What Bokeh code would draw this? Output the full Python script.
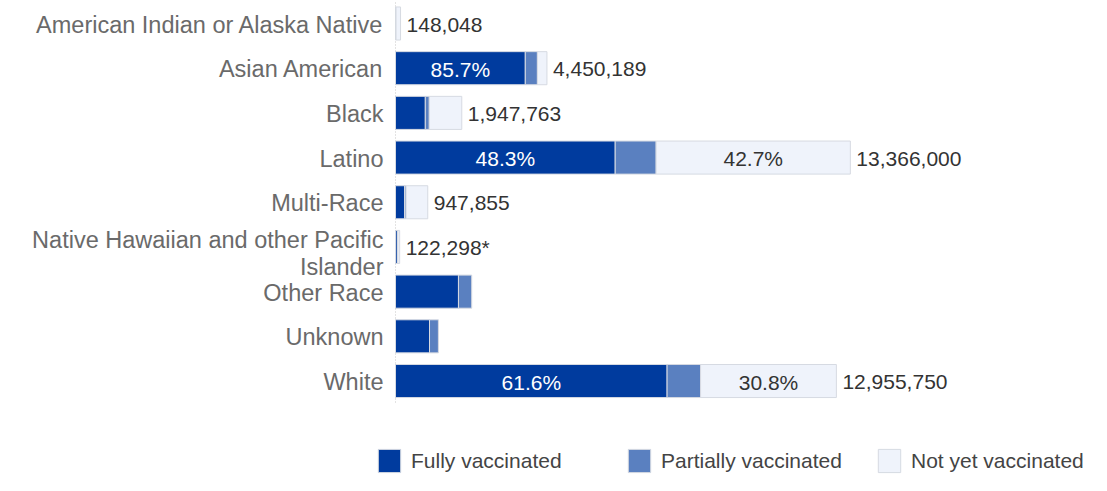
from bokeh.plotting import figure
from bokeh.models import ColumnDataSource, Range1d, Legend, LegendItem
from bokeh.core.properties import value
from bokeh.embed import file_html
from bokeh.resources import INLINE

# ---------------- data ----------------
categories = [
    "American Indian or Alaska Native",
    "Asian American",
    "Black",
    "Latino",
    "Multi-Race",
    "Native Hawaiian and other Pacific Islander",
    "Other Race",
    "Unknown",
    "White",
]
population = [148048, 4450189, 1947763, 13366000, 947855, 122298, None, None, 12955750]
population_labels = ["148,048", "4,450,189", "1,947,763", "13,366,000", "947,855",
                     "122,298*", "", "", "12,955,750"]
fully_vaccinated = [10000, 3813800, 876000, 6455800, 265000, 55000, 1850000, 1000000, 7980700]
partially_vaccinated = [6000, 356000, 117000, 1202900, 47000, 12000, 390000, 260000, 984600]
not_yet_vaccinated = [132048, 280389, 954763, 5707300, 635855, 55298, 0, 0, 3990450]

series_names = ["Fully vaccinated", "Partially vaccinated", "Not yet vaccinated"]
series_colors = ["#003b9e", "#5a80c0", "#eff3fb"]

# ---------------- layout constants ----------------
W, H = 1091, 475
PX_PER_M = 34.03          # pixels per million people
ROW_PX = 44.69            # pixels per category row
ORIGIN = 395              # x pixel of the bar origin inside the figure
TOP_ROW_PX = 23           # y pixel of the first row centre
BAR_H = 0.74
FONT = "Liberation Sans"

n = len(categories)
ys = [n - 1 - i for i in range(n)]
x_start = -ORIGIN / PX_PER_M * 1e6
x_end = (W - ORIGIN) / PX_PER_M * 1e6
y_end = (n - 1) + TOP_ROW_PX / ROW_PX
y_start = y_end - H / ROW_PX
axis_bottom = y_end - 402 / ROW_PX

p = figure(width=W, height=H, x_range=Range1d(x_start, x_end),
           y_range=Range1d(y_start, y_end), output_backend="svg",
           toolbar_location=None, x_axis_location=None, y_axis_location=None,
           min_border=0)
p.grid.visible = False
p.outline_line_color = None
p.background_fill_color = "white"

# dotted category axis line
p.segment(x0=[0], y0=[axis_bottom], x1=[0], y1=[y_end],
          line_color="#c6c6c6", line_width=1, line_dash="1 2")

# stacked segments
series = [fully_vaccinated, partially_vaccinated, not_yet_vaccinated]
lefts = [0] * n
renderers = []
seg_bounds = []
for vals, name, color in zip(series, series_names, series_colors):
    rows = [i for i in range(n) if vals[i] > 0]
    src = ColumnDataSource(dict(
        y=[ys[i] for i in rows],
        left=[lefts[i] for i in rows],
        right=[lefts[i] + vals[i] for i in rows],
    ))
    r = p.hbar(y="y", left="left", right="right", height=BAR_H, source=src,
               fill_color=color, line_color="#d6dae2", line_width=1)
    renderers.append(r)
    seg_bounds.append([(lefts[i], lefts[i] + vals[i]) for i in range(n)])
    lefts = [lefts[i] + vals[i] for i in range(n)]

# category labels
label_style = dict(text_align="right", text_baseline="middle", text_font=value(FONT),
                   text_font_size="23.5px", text_color="#6a6a6a")
labels = [c.replace("Pacific Islander", "Pacific\nIslander") for c in categories]
single = [i for i in range(n) if "\n" not in labels[i]]
p.text(x=[0] * len(single), y=[ys[i] for i in single], text=[labels[i] for i in single],
       x_offset=-12, y_offset=1, **label_style)
for i in [i for i in range(n) if "\n" in labels[i]]:
    first, second = labels[i].split("\n")
    p.text(x=[0], y=[ys[i]], text=[first], x_offset=-12, y_offset=-7, **label_style)
    p.text(x=[0], y=[ys[i]], text=[second], x_offset=-12, y_offset=20, **label_style)

# population labels
rows = [i for i in range(n) if population[i] is not None]
p.text(x=[population[i] for i in rows], y=[ys[i] for i in rows],
       text=[population_labels[i] for i in rows], x_offset=6, y_offset=1,
       text_align="left", text_baseline="middle",
       text_font=value(FONT), text_font_size="21px", text_color="#333333")

# percentage labels inside wide segments
MIN_LABEL = 1.5e6
for s_idx, color in [(0, "white"), (2, "#333333")]:
    xs, yy, tt = [], [], []
    for i in range(n):
        if population[i] is None:
            continue
        a, b = seg_bounds[s_idx][i]
        if b - a >= MIN_LABEL:
            xs.append((a + b) / 2)
            yy.append(ys[i])
            tt.append(f"{100 * series[s_idx][i] / population[i]:.1f}%")
    p.text(x=xs, y=yy, text=tt, text_align="center", text_baseline="middle", y_offset=1,
           text_font=value(FONT), text_font_size="21px", text_color=color)

legend = Legend(
    items=[LegendItem(label=nm, renderers=[r]) for nm, r in zip(series_names, renderers)],
    orientation="horizontal", location=(375, 0),
    glyph_width=28, glyph_height=29, label_standoff=8, label_width=209, spacing=5,
    padding=0, margin=0, border_line_color=None, background_fill_alpha=0,
    label_text_font=FONT, label_text_font_size="21px", label_text_color="#444444",
)
p.add_layout(legend)

open("out.html", "w").write(file_html(p, INLINE))
